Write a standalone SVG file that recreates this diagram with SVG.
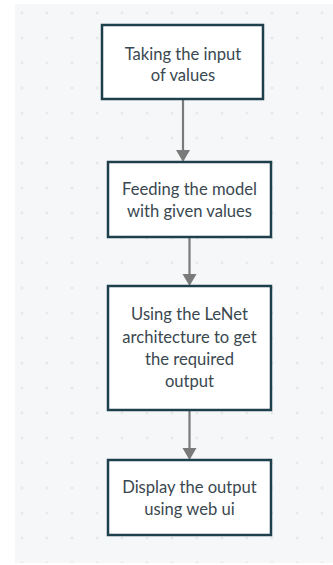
<svg xmlns="http://www.w3.org/2000/svg" width="333" height="565" viewBox="0 0 333 565">
  <defs>
    <pattern id="dots" x="9.5" y="0.5" width="25" height="25" patternUnits="userSpaceOnUse">
      <circle cx="12.5" cy="12.5" r="1.1" fill="#d6d9dc"/>
    </pattern>
    <style>
      .box { fill: #ffffff; stroke: #1e3f4c; stroke-width: 2.5; }
      .lbl { font-family: Lato, "Liberation Sans", sans-serif; font-size: 16.6px; fill: #3a4850; text-anchor: middle; }
      .edge { stroke: #7a7a7a; stroke-width: 2.2; fill: none; }
      .head { fill: #7a7a7a; }
    </style>
  </defs>
  <rect x="0" y="0" width="333" height="565" fill="#ffffff"/>
  <rect x="15" y="4" width="318" height="559" fill="#f6f7f8"/>
  <rect x="15" y="4" width="318" height="559" fill="url(#dots)"/>

  <g id="connectors">
    <line class="edge" x1="183" y1="99" x2="183" y2="150"/>
    <path class="head" d="M176,150 L190,150 L183,162 Z"/>
    <line class="edge" x1="189.5" y1="237" x2="189.5" y2="274"/>
    <path class="head" d="M182.5,274 L196.5,274 L189.5,286 Z"/>
    <line class="edge" x1="189.5" y1="410" x2="189.5" y2="448"/>
    <path class="head" d="M182.5,448 L196.5,448 L189.5,460 Z"/>
  </g>

  <g id="node1">
    <rect class="box" x="102" y="25" width="161" height="74"/>
    <text class="lbl" x="183" y="60">Taking the input</text>
    <text class="lbl" x="183" y="81">of values</text>
  </g>
  <g id="node2">
    <rect class="box" x="108" y="162" width="163" height="75"/>
    <text class="lbl" x="189.5" y="195">Feeding the model</text>
    <text class="lbl" x="189.5" y="217">with given values</text>
  </g>
  <g id="node3">
    <rect class="box" x="108" y="286" width="163" height="124"/>
    <text class="lbl" x="189.5" y="320">Using the LeNet</text>
    <text class="lbl" x="189.5" y="343">architecture to get</text>
    <text class="lbl" x="189.5" y="365">the required</text>
    <text class="lbl" x="189.5" y="387">output</text>
  </g>
  <g id="node4">
    <rect class="box" x="108" y="460" width="163" height="75"/>
    <text class="lbl" x="189.5" y="493">Display the output</text>
    <text class="lbl" x="189.5" y="515">using web ui</text>
  </g>
</svg>
